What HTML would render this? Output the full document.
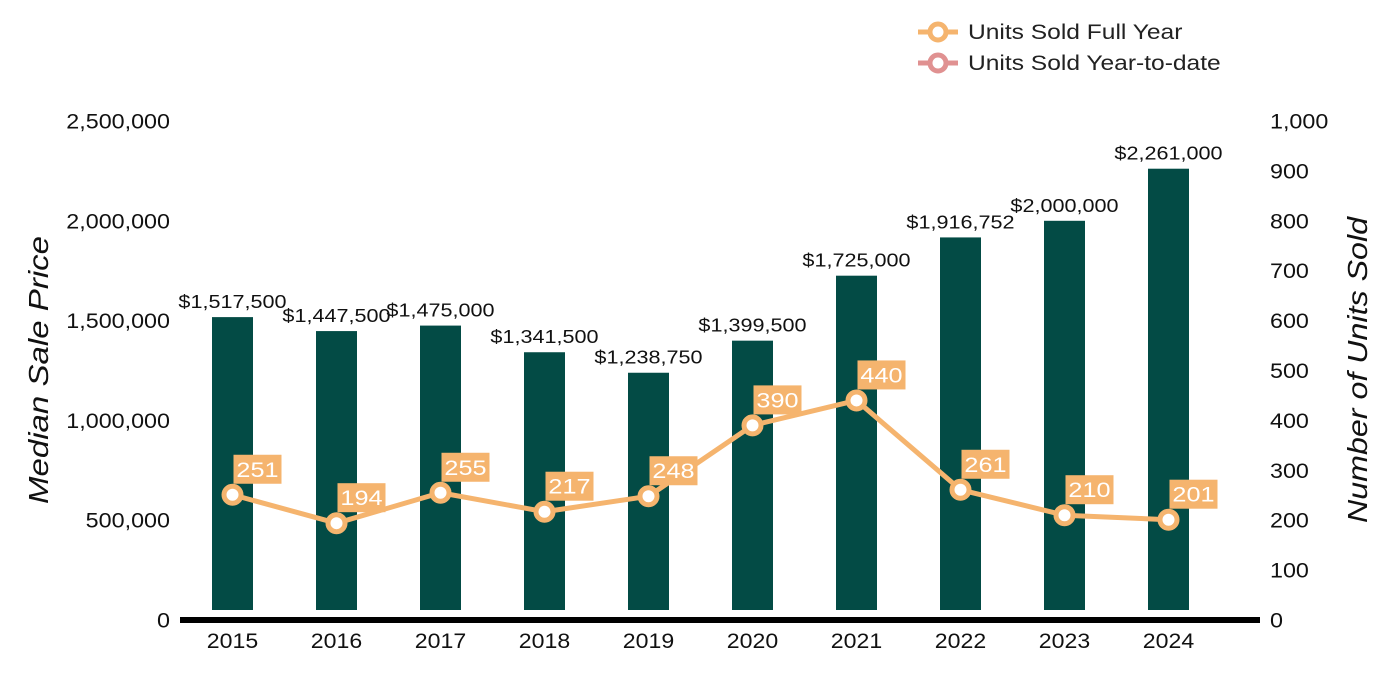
<!DOCTYPE html>
<html><head><meta charset="utf-8"><style>
body{margin:0;background:#fff;}
svg{display:block;font-family:"Liberation Sans",Arial,sans-serif;}
</style></head><body>
<svg id="chart" width="1400" height="700" viewBox="0 0 1400 700" xmlns="http://www.w3.org/2000/svg">
<g id="legend">
  <g>
    <line x1="918" y1="32" x2="958" y2="32" stroke="#F5B46E" stroke-width="5"/>
    <circle cx="938" cy="32" r="8" fill="#fff" stroke="#F5B46E" stroke-width="5"/>
    <text class="sc" data-s="1.17" x="968" y="39" font-size="21" fill="#222">Units Sold Full Year</text>
  </g>
  <g>
    <line x1="918" y1="63" x2="958" y2="63" stroke="#E09191" stroke-width="5"/>
    <circle cx="938" cy="63" r="8" fill="#fff" stroke="#E09191" stroke-width="5"/>
    <text class="sc" data-s="1.17" x="968" y="70" font-size="21" fill="#222">Units Sold Year-to-date</text>
  </g>
</g>
<text class="sc" data-s="1.18" transform="translate(48,370) rotate(-90)" text-anchor="middle" font-size="28" font-style="italic" fill="#111">Median Sale Price</text>
<text class="sc" data-s="1.15" transform="translate(1367,370) rotate(-90)" text-anchor="middle" font-size="28" font-style="italic" fill="#111">Number of Units Sold</text>
<g id="ticks"></g>
<g id="bars"></g>
<rect x="180" y="617" width="1080" height="6" fill="#000"/>
<g id="line"></g>
</svg>
<script>
const categories=["2015","2016","2017","2018","2019","2020","2021","2022","2023","2024"];
const prices=[1517500,1447500,1475000,1341500,1238750,1399500,1725000,1916752,2000000,2261000];
const priceLabels=["$1,517,500","$1,447,500","$1,475,000","$1,341,500","$1,238,750","$1,399,500","$1,725,000","$1,916,752","$2,000,000","$2,261,000"];
const units=[251,194,255,217,248,390,440,261,210,201];
const leftTicks=[0,500000,1000000,1500000,2000000,2500000];
const leftTickLabels=["0","500,000","1,000,000","1,500,000","2,000,000","2,500,000"];
const rightTicks=[0,100,200,300,400,500,600,700,800,900,1000];

const NS="http://www.w3.org/2000/svg";
const y0=620,yTop=121;
function yL(v){return y0-v/2500000*(y0-yTop);}
function yR(v){return y0-v/1000*(y0-yTop);}
function xC(i){return 232.5+i*104;}
function mk(tag,attrs,parent){const e=document.createElementNS(NS,tag);for(const k in attrs)e.setAttribute(k,attrs[k]);parent.appendChild(e);return e;}
const ticks=document.getElementById('ticks');
leftTicks.forEach((v,i)=>{
  const t=mk('text',{x:170,y:yL(v)+7.5,'text-anchor':'end','font-size':21,fill:'#111',class:'sc','data-s':'1.11'},ticks);
  t.textContent=leftTickLabels[i];
  
  
});
rightTicks.forEach(v=>{
  const t=mk('text',{x:1270,y:yR(v)+7.5,'text-anchor':'start','font-size':21,fill:'#111',class:'sc','data-s':'1.11'},ticks);
  t.textContent=v===1000?"1,000":String(v);
  
  
});
const bars=document.getElementById('bars');
categories.forEach((c,i)=>{
  const top=yL(prices[i]);
  const r=mk('rect',{x:xC(i)-20.5,y:top,width:41,height:Math.max(0,610-top),fill:'#034B45'},bars);
  
  
  const t=mk('text',{x:xC(i),y:top-9,'text-anchor':'middle','font-size':18,fill:'#111',class:'sc','data-s':'1.2'},bars);
  t.textContent=priceLabels[i];
  
  
  const xl=mk('text',{x:xC(i),y:648,'text-anchor':'middle','font-size':21,fill:'#111',class:'sc','data-s':'1.1'},bars);
  xl.textContent=c;
  
  
});
const line=document.getElementById('line');
const pts=units.map((u,i)=>xC(i)+','+yR(u)).join(' ');
const pl=mk('polyline',{points:pts,fill:'none',stroke:'#F5B46E','stroke-width':5,'stroke-linejoin':'round'},line);


units.forEach((u,i)=>{
  const cx=xC(i),cy=yR(u);
  const c=mk('circle',{cx:cx,cy:cy,r:8.5,fill:'#fff',stroke:'#F5B46E','stroke-width':5},line);
  
  
  const b=mk('rect',{x:cx+1,y:cy-40,width:48,height:29,fill:'#F5B46E'},line);
  
  
  const t=mk('text',{x:cx+25,y:cy-18,'text-anchor':'middle','font-size':21,fill:'#fff',class:'sc','data-s':'1.2'},line);
  t.textContent=String(u);
  
  
});
document.querySelectorAll('text.sc').forEach(t=>{
  const s=parseFloat(t.getAttribute('data-s'))||1;
  const L=t.getComputedTextLength();
  t.setAttribute('textLength',(L*s).toFixed(1));
  t.setAttribute('lengthAdjust','spacingAndGlyphs');
});
</script>
</body></html>
